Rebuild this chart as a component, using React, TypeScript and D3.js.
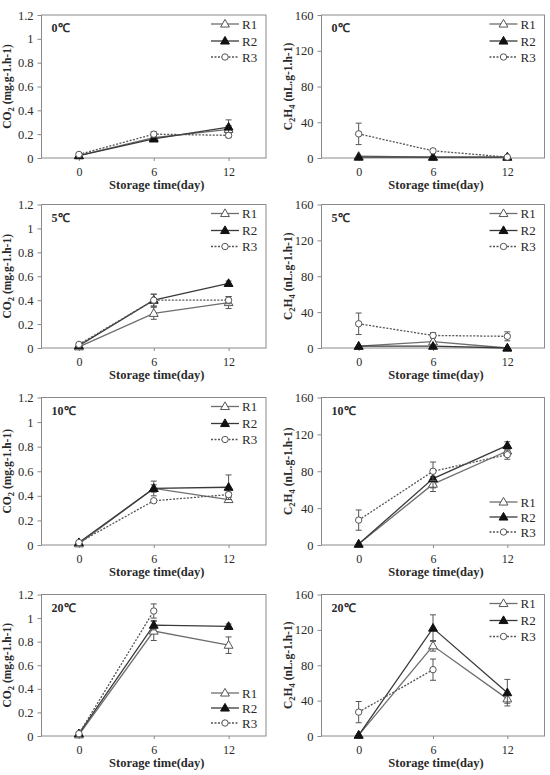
import React, { useEffect, useRef } from 'react';
import * as d3 from 'd3';

// storage days on the x axis
const days = [0, 6, 12];
const seriesNames = ['R1', 'R2', 'R3'];
const temps = ['0℃', '5℃', '10℃', '20℃'];

const co2Ticks = [0, 0.2, 0.4, 0.6, 0.8, 1, 1.2];
const c2h4Ticks = [0, 40, 80, 120, 160];

// CO2 respiration (mg.g-1.h-1), rows = R1, R2, R3
const co2At0 = [[0.02, 0.17, 0.24], [0.02, 0.16, 0.26], [0.03, 0.2, 0.19]];
const co2At0Err = [[0.01, 0.01, 0.03], [0.01, 0.01, 0.06], [0.01, 0.02, 0.02]];
const co2At5 = [[0.01, 0.29, 0.38], [0.02, 0.4, 0.54], [0.03, 0.4, 0.4]];
const co2At5Err = [[0.01, 0.05, 0.05], [0.01, 0.05, 0.02], [0.01, 0.05, 0.03]];
const co2At10 = [[0.01, 0.46, 0.37], [0.02, 0.46, 0.47], [0.02, 0.36, 0.41]];
const co2At10Err = [[0.01, 0.03, 0.02], [0.01, 0.06, 0.1], [0.01, 0.01, 0.02]];
const co2At20 = [[0.01, 0.89, 0.77], [0.02, 0.94, 0.93], [0.02, 1.06, null]];
const co2At20Err = [[0.01, 0.08, 0.07], [0.01, 0.04, 0.02], [0.01, 0.06, 0]];

// ethylene production (nL.g-1.h-1)
const c2h4At0 = [[2, 1, 1], [1, 1, 1], [27, 8, 1]];
const c2h4At0Err = [[0, 0, 0], [0, 0, 0], [12, 2, 0]];
const c2h4At5 = [[2, 7, 0], [2, 2, 0], [27, 14, 13]];
const c2h4At5Err = [[0, 1, 0], [0, 1, 0], [12, 3, 5]];
const c2h4At10 = [[1, 66, 102], [1, 72, 108], [27, 80, 98]];
const c2h4At10Err = [[0, 8, 5], [0, 10, 4], [11, 10, 5]];
const c2h4At20 = [[1, 102, 42], [1, 122, 49], [27, 75, null]];
const c2h4At20Err = [[0, 6, 5], [0, 15, 15], [12, 12, 0]];

type Panel = {
  kind: 'co2' | 'c2h4';
  temp: string;
  values: (number | null)[][];
  errors: number[][];
  col: number;
  row: number;
  legendBottom: boolean;
};

const panels: Panel[] = [
  { kind: 'co2', temp: temps[0], values: co2At0, errors: co2At0Err, col: 0, row: 0, legendBottom: false },
  { kind: 'c2h4', temp: temps[0], values: c2h4At0, errors: c2h4At0Err, col: 1, row: 0, legendBottom: false },
  { kind: 'co2', temp: temps[1], values: co2At5, errors: co2At5Err, col: 0, row: 1, legendBottom: false },
  { kind: 'c2h4', temp: temps[1], values: c2h4At5, errors: c2h4At5Err, col: 1, row: 1, legendBottom: false },
  { kind: 'co2', temp: temps[2], values: co2At10, errors: co2At10Err, col: 0, row: 2, legendBottom: false },
  { kind: 'c2h4', temp: temps[2], values: c2h4At10, errors: c2h4At10Err, col: 1, row: 2, legendBottom: true },
  { kind: 'co2', temp: temps[3], values: co2At20, errors: co2At20Err, col: 0, row: 3, legendBottom: true },
  { kind: 'c2h4', temp: temps[3], values: c2h4At20, errors: c2h4At20Err, col: 1, row: 3, legendBottom: false },
];

const colX = [[41.5, 266], [321.5, 544.5]];
const rowY = [[15, 158], [204.5, 348], [397.5, 545], [594.5, 736]];

const FONT = '"Liberation Serif", "Times New Roman", serif';
const TEXT = '#2a2a2a';
const FRAME = '#8a8a8a';
const lineColors = ['#6e6e6e', '#3a3a3a', '#555'];

export default function App() {
  const ref = useRef<SVGSVGElement>(null);

  useEffect(() => {
    if (!ref.current) return;
    const svg = d3.select(ref.current);
    svg.selectAll('*').remove();

    panels.forEach(p => {
      const [x0, x1] = colX[p.col];
      const [y0, y1] = rowY[p.row];
      const x = d3.scaleLinear().domain([-3, 15]).range([x0, x1]);
      const y = d3.scaleLinear().domain(p.kind === 'co2' ? [0, 1.2] : [0, 160]).range([y1, y0]);
      const g = svg.append('g');

      // plot frame
      g.append('rect')
        .attr('x', x0).attr('y', y0)
        .attr('width', x1 - x0).attr('height', y1 - y0)
        .attr('fill', 'none').attr('stroke', FRAME).attr('stroke-width', 1);

      const yAxis = d3.axisLeft(y)
        .tickValues(p.kind === 'co2' ? co2Ticks : c2h4Ticks)
        .tickSize(4).tickPadding(4)
        .tickFormat(v => String(v));
      g.append('g')
        .attr('transform', `translate(${x0},0)`)
        .call(yAxis)
        .call(a => a.select('.domain').remove())
        .call(a => a.selectAll('.tick line').attr('stroke', FRAME))
        .call(a => a.selectAll('.tick text')
          .attr('font-family', FONT).attr('font-size', 12.5).attr('fill', TEXT));

      const xAxis = d3.axisBottom(x).tickValues(days).tickSize(3).tickPadding(6);
      g.append('g')
        .attr('transform', `translate(0,${y1})`)
        .call(xAxis)
        .call(a => a.select('.domain').remove())
        .call(a => a.selectAll('.tick line').attr('stroke', FRAME))
        .call(a => a.selectAll('.tick text')
          .attr('font-family', FONT).attr('font-size', 12).attr('fill', TEXT));

      g.append('text')
        .attr('x', (x0 + x1) / 2 + 3).attr('y', y1 + 31)
        .attr('text-anchor', 'middle')
        .attr('font-family', FONT).attr('font-size', 12.5).attr('font-weight', 'bold')
        .attr('fill', TEXT)
        .text('Storage time(day)');

      // rotated y title with subscripts
      const lx = p.col === 0 ? 11 : 292;
      const title = g.append('text')
        .attr('transform', `translate(${lx},${(y0 + y1) / 2}) rotate(-90)`)
        .attr('text-anchor', 'middle')
        .attr('font-family', FONT).attr('font-size', 11.5).attr('font-weight', 'bold')
        .attr('fill', TEXT);
      if (p.kind === 'co2') {
        title.append('tspan').text('CO');
        title.append('tspan').attr('dy', 3).attr('font-size', 8.5).text('2');
        title.append('tspan').attr('dy', -3).text(' (mg.g-1.h-1)');
      } else {
        title.append('tspan').text('C');
        title.append('tspan').attr('dy', 3).attr('font-size', 8.5).text('2');
        title.append('tspan').attr('dy', -3).text('H');
        title.append('tspan').attr('dy', 3).attr('font-size', 8.5).text('4');
        title.append('tspan').attr('dy', -3).text(' (nL.g-1.h-1)');
      }

      g.append('text')
        .attr('x', x0 + 10).attr('y', y0 + 17)
        .attr('font-family', FONT).attr('font-size', 12).attr('font-weight', 'bold')
        .attr('fill', TEXT)
        .text(p.temp);

      const tri = d3.symbol().type(d3.symbolTriangle).size(34);
      const drawMarker = (sel: d3.Selection<SVGGElement, unknown, null, undefined>, i: number, cx: number, cy: number) => {
        if (i === 2) {
          sel.append('circle').attr('cx', cx).attr('cy', cy).attr('r', 3.2)
            .attr('fill', '#fff').attr('stroke', '#555').attr('stroke-width', 1);
        } else {
          sel.append('path').attr('d', tri()!)
            .attr('transform', `translate(${cx},${cy + 0.5})`)
            .attr('fill', i === 1 ? '#111' : '#fff')
            .attr('stroke', i === 1 ? '#111' : '#555').attr('stroke-width', 1);
        }
      };

      // series: lines, error bars, markers
      p.values.forEach((vals, i) => {
        const pts = days.map((d, k) => ({ d, v: vals[k], e: p.errors[i][k] }))
          .filter(pt => pt.v !== null) as { d: number; v: number; e: number }[];
        const line = d3.line<{ d: number; v: number }>().x(pt => x(pt.d)).y(pt => y(pt.v));
        g.append('path')
          .datum(pts)
          .attr('d', line)
          .attr('fill', 'none')
          .attr('stroke', lineColors[i])
          .attr('stroke-width', 1.3)
          .attr('stroke-dasharray', i === 2 ? '2 1.5' : null);

        const eg = g.append('g');
        pts.filter(pt => pt.e > 0).forEach(pt => {
          const cx = x(pt.d);
          const top = y(pt.v + pt.e);
          const bot = y(Math.max(0, pt.v - pt.e));
          eg.append('line').attr('x1', cx).attr('x2', cx).attr('y1', top).attr('y2', bot)
            .attr('stroke', '#555').attr('stroke-width', 1);
          [top, bot].forEach(yy => eg.append('line')
            .attr('x1', cx - 3).attr('x2', cx + 3).attr('y1', yy).attr('y2', yy)
            .attr('stroke', '#555').attr('stroke-width', 1));
        });

        const mg = g.append('g');
        pts.forEach(pt => drawMarker(mg, i, x(pt.d), y(pt.v)));
      });

      // legend
      const rowsY = p.legendBottom ? [y1 - 43, y1 - 28, y1 - 13] : [y0 + 9, y0 + 26, y0 + 42];
      const lx0 = x1 - 55;
      const lx1 = x1 - 27;
      seriesNames.forEach((name, i) => {
        const ly = rowsY[i];
        const lg = g.append('g');
        lg.append('line')
          .attr('x1', lx0).attr('x2', lx1).attr('y1', ly).attr('y2', ly)
          .attr('stroke', lineColors[i]).attr('stroke-width', 1.3)
          .attr('stroke-dasharray', i === 2 ? '2 1.5' : null);
        drawMarker(lg, i, (lx0 + lx1) / 2, ly);
        lg.append('text')
          .attr('x', lx1 + 3).attr('y', ly + 4.5)
          .attr('font-family', FONT).attr('font-size', 13).attr('fill', TEXT)
          .text(name);
      });
    });
  }, []);

  return (
    <svg
      ref={ref}
      width={550}
      height={775}
      style={{ position: 'absolute', left: 0, top: 0, background: '#fff' }}
    />
  );
}
